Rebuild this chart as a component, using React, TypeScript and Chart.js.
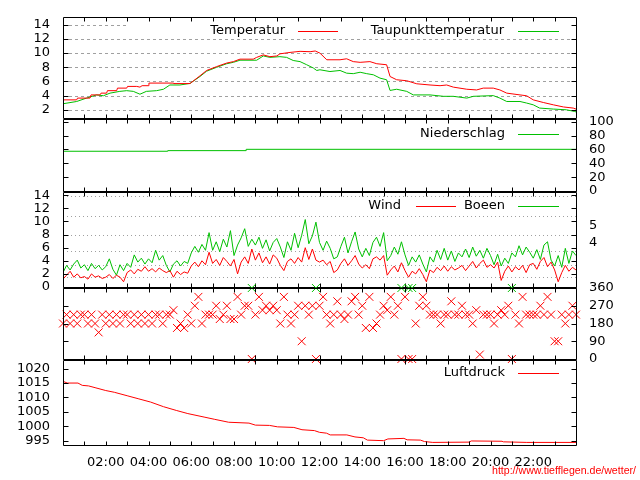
import React, { useEffect, useRef } from 'react';
import { Chart, registerables } from 'chart.js';

Chart.register(...registerables);

// ---------------- data ----------------
const hourLabelValues = [2, 4, 6, 8, 10, 12, 14, 16, 18, 20, 22];
const hourLabels = ['02:00', '04:00', '06:00', '08:00', '10:00', '12:00', '14:00', '16:00', '18:00', '20:00', '22:00'];

// Temperatur / Taupunkt (hours, °C)
const tempTimes = [
  0, 0.64, 0.68, 1.26, 1.31, 1.73,
  1.78, 2.04, 2.08, 2.51, 2.55, 2.98,
  3.02, 3.45, 3.6, 3.7, 3.99, 4.02,
  5.16, 5.19, 5.94, 6.41, 6.72, 7.19,
  7.66, 7.97, 8.28, 8.9, 9.06, 9.37,
  9.68, 10.0, 10.15, 10.62, 11.09, 11.56,
  11.8, 12.02, 12.34, 12.96, 13.27, 13.58,
  13.9, 14.36, 14.68, 15.14, 15.3, 15.61,
  16.08, 16.55, 17.17, 17.64, 17.95, 18.26,
  18.89, 19.35, 19.66, 20.13, 20.44, 20.76,
  21.38, 21.69, 22.0, 22.47, 22.94, 23.41,
  23.87, 24,
];
const tempValues = [
  3.4, 3.4, 3.65, 3.65, 4.1, 4.1,
  4.35, 4.35, 4.7, 4.7, 5.06, 5.06,
  5.3, 5.3, 5.2, 5.4, 5.4, 5.77,
  5.77, 5.7, 5.7, 6.8, 7.55, 8.1,
  8.6, 8.8, 9.15, 9.15, 9.4, 9.75,
  9.5, 9.6, 9.9, 10.1, 10.25, 10.2,
  10.3, 10.0, 9.06, 9.06, 9.2, 8.8,
  8.7, 8.8, 8.5, 8.36, 6.7, 6.24,
  6.1, 5.67, 5.5, 5.4, 5.5, 5.2,
  4.9, 4.8, 5.06, 5.06, 4.8, 4.35,
  4.1, 3.98, 3.4, 3.03, 2.7, 2.4,
  2.24, 2.1,
];
const dewTimes = [
  0, 0.64, 1.1, 1.57, 1.89, 2.2,
  2.66, 2.98, 3.29, 3.6, 3.9, 4.38,
  4.7, 5.0, 5.47, 5.94, 6.41, 6.72,
  7.19, 7.66, 7.97, 8.28, 9.06, 9.37,
  9.68, 10.15, 10.46, 10.77, 11.09, 11.4,
  11.71, 11.87, 12.02, 12.49, 12.96, 13.27,
  13.58, 13.9, 14.21, 14.52, 14.83, 15.14,
  15.3, 15.61, 16.08, 16.39, 17.17, 17.8,
  18.26, 18.89, 19.2, 20.13, 20.44, 20.76,
  21.38, 21.69, 22.0, 22.3, 22.94, 23.55,
  23.94, 24,
];
const dewValues = [
  2.85, 3.17, 3.65, 4.1, 3.98, 4.35,
  4.6, 4.7, 4.6, 4.2, 4.6, 4.7,
  4.9, 5.5, 5.5, 5.72, 6.7, 7.45,
  8.0, 8.5, 8.7, 9.0, 9.0, 9.6,
  9.4, 9.5, 9.4, 8.96, 8.8, 8.36,
  7.9, 7.55, 7.65, 7.4, 7.55, 7.17,
  7.1, 7.3, 7.1, 6.94, 6.47, 6.24,
  4.73, 4.9, 4.6, 4.1, 4.1, 3.9,
  3.9, 3.65, 3.9, 4.0, 3.65, 3.17,
  3.17, 2.95, 2.7, 2.24, 2.1, 2.0,
  1.76, 1.7,
];
const tempTicks = [2, 4, 6, 8, 10, 12, 14];

// Niederschlag
const precipTimes = [0, 4.9, 8.57, 24];
const precipValues = [57.4, 58.3, 60.2, 60.2];
const precipTicks = [0, 20, 40, 60, 80, 100];

// Wind / Boeen (m/s), every 10 minutes from 00:00
const windValues = [
  1.2, 1.8, 2.4, 1.5, 2.0, 1.4,
  1.6, 1.2, 2.0, 1.5, 1.7, 1.3,
  1.5, 1.9, 1.3, 1.8, 1.5, 0.8,
  2.2, 2.6, 2.0, 2.7, 2.4, 3.1,
  2.4, 2.8, 2.3, 2.9, 2.5, 2.2,
  2.5, 1.5, 2.4, 1.9, 2.3, 2.1,
  3.2, 3.8, 3.1, 4.0, 3.4, 5.3,
  3.6, 4.2, 3.3, 4.5, 3.9, 3.2,
  4.2, 2.0, 3.8, 4.6, 3.6, 5.8,
  4.1, 5.2, 3.7, 4.6, 3.5, 4.9,
  4.4, 3.3, 2.5, 3.9, 4.3, 3.6,
  4.5, 3.8, 6.0, 4.2, 5.8, 4.1,
  3.8, 4.1, 3.4, 3.9, 2.2, 2.6,
  3.6, 4.3, 3.3, 4.0, 4.8, 3.5,
  2.9, 3.4, 2.8, 4.3, 4.6, 4.1,
  4.8, 1.8, 2.6, 3.2, 2.3, 3.7,
  2.5, 1.5, 2.4, 2.0, 2.8, 1.9,
  0.8, 2.6, 2.2, 3.0, 2.5, 3.2,
  2.4, 3.1, 2.6, 2.9, 3.3, 2.5,
  3.2, 3.9, 2.9, 3.6, 4.1, 3.0,
  3.4, 2.9, 3.8, 1.0, 2.4, 3.2,
  2.3, 3.1, 2.6, 3.3, 2.2, 3.4,
  3.6, 2.7, 3.9, 4.5, 3.1, 3.8,
  2.6, 0.8, 2.2, 3.3, 2.4, 3.0,
  2.6,
];
const gustValues = [
  2.2, 3.3, 2.6, 3.5, 4.1, 2.9,
  3.4, 2.5, 3.6, 2.8, 3.3, 2.6,
  3.1, 4.3, 2.7, 1.8, 3.4, 2.5,
  3.6, 3.0, 4.9, 3.8, 4.4, 3.5,
  4.3, 3.7, 5.6, 4.1, 4.8, 3.3,
  2.3, 3.5, 4.0, 3.2, 3.9, 3.6,
  5.2, 6.2, 5.3, 6.5, 5.6, 8.3,
  5.6, 6.9, 5.4, 7.3, 6.1, 8.6,
  4.8, 6.4, 7.5, 8.9, 6.2, 7.3,
  6.4, 7.6, 5.9, 7.2, 5.5, 6.8,
  7.4, 6.1, 4.5, 6.9, 5.6, 8.2,
  6.0, 7.9, 10.3, 6.6, 7.8, 9.9,
  6.8, 5.6, 7.0, 5.9, 4.3, 4.6,
  6.2, 7.6, 5.2, 6.9, 8.4, 5.8,
  4.6, 5.9, 4.8, 6.8, 7.6, 6.2,
  8.3, 4.0, 4.8, 6.1, 5.0, 6.9,
  4.9, 3.3, 4.6, 3.8, 4.9, 3.5,
  2.3, 4.6, 3.8, 5.6, 4.2, 5.9,
  4.1, 5.5, 3.9, 5.2, 4.6, 5.8,
  4.5, 6.1, 4.7, 5.6, 4.4, 5.9,
  4.8, 3.4, 5.0, 3.2, 4.4, 3.6,
  5.2, 4.6, 6.3, 4.9, 6.1, 5.3,
  4.4, 5.7, 4.2, 6.4, 6.9, 4.1,
  3.2, 4.8, 3.0, 5.9, 3.6, 5.5,
  4.8,
];
const windTicks = [0, 2, 4, 6, 8, 10, 12, 14];
const bftLimits = [1.6, 3.4, 5.5, 8.0, 10.8, 13.9];
const bftTickValues = [6.7, 9.35];
const bftTickLabels = ['4', '5'];

// Windrichtung (degrees), every 10 minutes from 00:00
const dirValues = [
  180, 225, 180, 225, 180, 225,
  225, 180, 225, 180, 135, 225,
  180, 225, 180, 225, 180, 225,
  225, 180, 225, 180, 225, 180,
  225, 180, 225, 225, 180, 225,
  225, 247.5, 157.5, 180, 157.5, 225,
  180, 270, 315, 180, 225, 225,
  225, 270, 202.5, 225, 270, 202.5,
  202.5, 315, 225, 270, 270, 0,
  225, 315, 247.5, 270, 247.5, 270,
  247.5, 180, 315, 225, 180, 225,
  270, 90, 270, 225, 270, 0,
  270, 315, 225, 180, 225, 292.5,
  225, 202.5, 225, 292.5, 315, 225,
  270, 157.5, 315, 157.5, 180, 225,
  270, 247.5, 315, 225, 270, 0,
  315, 0, 0, 180, 270, 315,
  270, 225, 225, 225, 180, 225,
  225, 292.5, 225, 225, 270, 225,
  225, 180, 247.5, 22.5, 225, 225,
  225, 180, 225, 247.5, 225, 270,
  0, 225, 180, 315, 225, 225,
  225, 225, 270, 225, 315, 225,
  90, 90, 225, 180, 225, 270,
  225,
];
const dirTicks = [0, 90, 180, 270, 360];

// Luftdruck (hPa)
const pressTimes = [
  0, 0.2, 0.7, 0.9, 1.2, 1.5,
  2.0, 2.4, 3.0, 3.55, 4.1, 4.7,
  5.3, 5.84, 6.6, 7.1, 7.75, 8.7,
  9.0, 9.66, 10.04, 10.8, 11.18, 11.76,
  12.0, 12.33, 12.5, 13.28, 13.66, 14.05,
  14.24, 15.0, 15.2, 15.95, 16.1, 16.72,
  16.91, 17.3, 19.0, 19.1, 20.54, 20.6,
  21.7, 24,
];
const pressValues = [
  1015.6, 1015.0, 1015.0, 1014.2, 1014.0, 1013.4,
  1012.4, 1011.8, 1010.6, 1009.5, 1008.4, 1006.8,
  1005.5, 1004.4, 1003.2, 1002.4, 1001.4, 1001.1,
  1000.4, 1000.3, 999.8, 999.6, 998.8, 998.5,
  997.9, 997.6, 997.0, 997.0, 996.3, 996.0,
  995.2, 995.0, 995.6, 995.8, 995.3, 995.2,
  994.7, 994.4, 994.5, 994.9, 994.8, 994.6,
  994.4, 994.4,
];
const pressTicks = [995, 1000, 1005, 1010, 1015, 1020];

const watermark = 'http://www.tiefflegen.de/wetter/';

// ---------------- styling ----------------
const FONT = '"DejaVu Sans", "Noto Sans", sans-serif';
const RED = '#ff0000';
const GREEN = '#00c000';
const GRID = '#a0a0a0';

const sampleTimes = windValues.map((_, i) => i / 6);

function series(times: number[], values: number[]) {
  return times.map((t, i) => ({ x: t, y: values[i] }));
}

function lineSet(label: string, data: any[], color: string, extra: any = {}) {
  return {
    label, data, borderColor: color, backgroundColor: color, borderWidth: 1,
    pointRadius: 0, pointHoverRadius: 0, tension: 0, fill: false, ...extra,
  };
}

function xAxis(show: boolean) {
  return {
    type: 'linear', min: 0, max: 24, display: show, position: 'bottom',
    grid: { display: false, drawTicks: false },
    border: { display: false },
    afterBuildTicks: (s: any) => { s.ticks = hourLabelValues.map((v) => ({ value: v })); },
    afterFit: (s: any) => {
      s.height = show ? 35 : 0;
      s.paddingLeft = 0; s.paddingRight = 0; s.paddingTop = 0; s.paddingBottom = 0;
    },
    ticks: {
      display: show,
      color: '#000', padding: 10, maxRotation: 0, autoSkip: false,
      font: { family: FONT, size: 13 },
      callback: (_v: any, i: number) => hourLabels[i],
    },
  };
}

function yAxis(position: 'left' | 'right', min: number, max: number, tickValues: number[], showLabels: boolean, labels?: string[]) {
  return {
    type: 'linear', position, min, max,
    grid: { display: false, drawTicks: false },
    border: { display: false },
    afterBuildTicks: (s: any) => { s.ticks = tickValues.map((v) => ({ value: v })); },
    afterFit: (s: any) => {
      s.width = position === 'left' ? 63 : 64;
      s.paddingTop = 0; s.paddingBottom = 0; s.paddingLeft = 0; s.paddingRight = 0;
    },
    ticks: {
      display: showLabels, color: '#000', padding: 13, autoSkip: false,
      font: { family: FONT, size: 13 },
      callback: (v: any, i: number) => (labels ? labels[i] : String(v)),
    },
  };
}

type KeyItem = { label: string; color: string; textRight: number; lineLeft: number; lineRight: number };
type FrameSpec = {
  grid?: { values: number[]; dash: number[] };
  keyBox?: { x1: number; x2: number; h: number };
  key?: KeyItem[];
  keyY?: number;
  mark?: { text: string; x: number; y: number; maxWidth: number };
};

function makeFrame(spec: FrameSpec) {
  return {
    id: 'frame',
    beforeDatasetsDraw(chart: any) {
      const { ctx, chartArea: a, scales } = chart;
      ctx.save();
      if (spec.grid) {
        ctx.strokeStyle = GRID;
        ctx.lineWidth = 1;
        ctx.setLineDash(spec.grid.dash);
        for (const v of spec.grid.values) {
          const py = Math.round(scales.y.getPixelForValue(v)) + 0.5;
          ctx.beginPath();
          ctx.moveTo(a.left, py);
          ctx.lineTo(a.right, py);
          ctx.stroke();
        }
        ctx.setLineDash([]);
      }
      if (spec.keyBox) {
        ctx.fillStyle = '#fff';
        ctx.fillRect(spec.keyBox.x1, a.top + 1, spec.keyBox.x2 - spec.keyBox.x1, spec.keyBox.h);
      }
      if (spec.key) {
        const y = a.top + (spec.keyY ?? 13.5);
        ctx.font = `13px ${FONT}`;
        ctx.textBaseline = 'middle';
        ctx.textAlign = 'right';
        for (const k of spec.key) {
          ctx.fillStyle = '#000';
          ctx.fillText(k.label, k.textRight, y);
          ctx.fillStyle = k.color;
          ctx.fillRect(k.lineLeft, Math.round(y), k.lineRight - k.lineLeft, 1);
        }
      }
      ctx.restore();
    },
    afterDatasetsDraw(chart: any) {
      const { ctx, chartArea: a, scales } = chart;
      ctx.save();
      ctx.strokeStyle = '#000';
      ctx.lineWidth = 1;
      const L = a.left + 0.5, R = a.right + 0.5, T = a.top + 0.5, B = a.bottom + 0.5;
      ctx.beginPath();
      ctx.rect(L, T, R - L, B - T);
      ctx.stroke();
      ctx.beginPath();
      for (let h = 1; h < 24; h++) {
        const px = Math.round(scales.x.getPixelForValue(h)) + 0.5;
        ctx.moveTo(px, T); ctx.lineTo(px, T + 4);
        ctx.moveTo(px, B); ctx.lineTo(px, B - 4);
      }
      for (const t of scales.y.ticks) {
        const py = Math.round(scales.y.getPixelForValue(t.value)) + 0.5;
        ctx.moveTo(L, py); ctx.lineTo(L + 5, py);
        ctx.moveTo(R, py); ctx.lineTo(R - 5, py);
      }
      ctx.stroke();
      if (spec.mark) {
        ctx.font = `11px "Liberation Sans", Arial, sans-serif`;
        ctx.fillStyle = RED;
        ctx.textAlign = 'left';
        ctx.textBaseline = 'middle';
        ctx.fillText(spec.mark.text, spec.mark.x, spec.mark.y, spec.mark.maxWidth);
      }
      ctx.restore();
    },
  };
}

function baseOptions(padTop: number, padBottom: number, scales: any) {
  return {
    animation: false,
    responsive: false,
    events: [],
    layout: { padding: { top: padTop, bottom: padBottom, left: 0, right: 0 }, autoPadding: false },
    plugins: { legend: { display: false }, tooltip: { enabled: false } },
    scales,
  };
}

type Panel = { top: number; height: number; make: () => any };

const panels: Panel[] = [
  {
    top: 0, height: 130,
    make: () => ({
      type: 'line',
      data: {
        datasets: [
          lineSet('Temperatur', series(tempTimes, tempValues), RED),
          lineSet('Taupunkttemperatur', series(dewTimes, dewValues), GREEN),
        ],
      },
      options: baseOptions(17, 12, {
        x: xAxis(false),
        y: yAxis('left', 0.84, 15.1, tempTicks, true),
        y2: yAxis('right', 0.84, 15.1, tempTicks, false),
      }),
      plugins: [makeFrame({
        grid: { values: tempTicks, dash: [3, 3] },
        keyBox: { x1: 126, x2: 576, h: 19 },
        keyY: 13.7,
        key: [
          { label: 'Temperatur', color: RED, textRight: 285, lineLeft: 298, lineRight: 338 },
          { label: 'Taupunkttemperatur', color: GREEN, textRight: 504, lineLeft: 518, lineRight: 559 },
        ],
      })],
    }),
  },
  {
    top: 109, height: 92,
    make: () => ({
      type: 'line',
      data: {
        datasets: [
          lineSet('Niederschlag', series(precipTimes, precipValues), GREEN, { stepped: true }),
        ],
      },
      options: baseOptions(10, 10, {
        x: xAxis(false),
        y: yAxis('left', 0, 104, precipTicks, false),
        y2: yAxis('right', 0, 104, precipTicks, true),
      }),
      plugins: [makeFrame({
        keyY: 14.5,
        key: [{ label: 'Niederschlag', color: GREEN, textRight: 505, lineLeft: 518, lineRight: 559 }],
      })],
    }),
  },
  {
    top: 182, height: 115,
    make: () => ({
      type: 'line',
      data: {
        datasets: [
          lineSet('Wind', series(sampleTimes, windValues), RED),
          lineSet('Boeen', series(sampleTimes, gustValues), GREEN),
        ],
      },
      options: baseOptions(10, 10, {
        x: xAxis(false),
        y: yAxis('left', 0, 14.5, windTicks, true),
        y2: yAxis('right', 0, 14.5, bftTickValues, true, bftTickLabels),
      }),
      plugins: [makeFrame({
        grid: { values: bftLimits, dash: [1, 3] },
        keyY: 13.7,
        key: [
          { label: 'Wind', color: RED, textRight: 401, lineLeft: 416, lineRight: 456 },
          { label: 'Boeen', color: GREEN, textRight: 505, lineLeft: 518, lineRight: 559 },
        ],
      })],
    }),
  },
  {
    top: 278, height: 91,
    make: () => ({
      type: 'line',
      data: {
        datasets: [
          lineSet('Windrichtung', series(sampleTimes, dirValues), RED, {
            showLine: false, pointStyle: 'crossRot', pointRadius: 5.6, pointBorderWidth: 1, clip: false,
          }),
          lineSet('Nord', sampleTimes.map((t, i) => ({ x: t, y: dirValues[i] === 0 ? 360 : null })), GREEN, {
            showLine: false, pointStyle: 'crossRot', pointRadius: 5.6, pointBorderWidth: 1, clip: false,
          }),
        ],
      },
      options: baseOptions(10, 10, {
        x: xAxis(false),
        y: yAxis('left', 0, 360, dirTicks, false),
        y2: yAxis('right', 0, 360, dirTicks, true),
      }),
      plugins: [makeFrame({})],
    }),
  },
  {
    top: 350, height: 130,
    make: () => ({
      type: 'line',
      data: {
        datasets: [
          lineSet('Luftdruck', series(pressTimes, pressValues), RED),
        ],
      },
      options: baseOptions(10, 0, {
        x: xAxis(true),
        y: yAxis('left', 993.5, 1023, pressTicks, true),
        y2: yAxis('right', 993.5, 1023, pressTicks, false),
      }),
      plugins: [makeFrame({
        keyY: 12.5,
        key: [{ label: 'Luftdruck', color: RED, textRight: 505, lineLeft: 518, lineRight: 559 }],
        mark: { text: watermark, x: 492, y: 121, maxWidth: 144 },
      })],
    }),
  },
];

function PanelChart({ panel }: { panel: Panel }) {
  const ref = useRef<HTMLCanvasElement | null>(null);
  useEffect(() => {
    if (!ref.current) return;
    const chart = new Chart(ref.current, panel.make());
    return () => chart.destroy();
  }, [panel]);
  return (
    <canvas
      ref={ref}
      width={640}
      height={panel.height}
      style={{ position: 'absolute', left: 0, top: panel.top, width: 640, height: panel.height }}
    />
  );
}

export default function App() {
  return (
    <div style={{ position: 'fixed', left: 0, top: 0, width: 640, height: 480, background: '#fff', overflow: 'hidden' }}>
      {panels.map((p, i) => (
        <PanelChart key={i} panel={p} />
      ))}
    </div>
  );
}
